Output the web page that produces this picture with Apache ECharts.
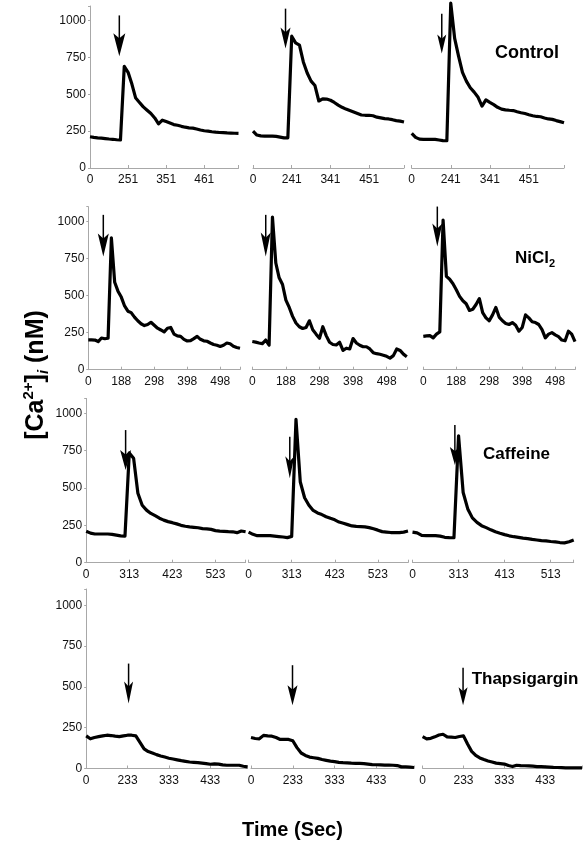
<!DOCTYPE html>
<html>
<head>
<meta charset="utf-8">
<script src="https://cdn.jsdelivr.net/npm/echarts@6/dist/echarts.min.js"></script>
<style>
html,body{margin:0;padding:0;background:#fff;}
#chart{width:585px;height:848px;}
</style>
</head>
<body>
<div id="chart"></div>
<script>
// ---------------- DATA ----------------
// [Ca2+]i (nM) traces, one value per sample index
const ctrl1 = [212,208,205,203,200,197,195,192,190,690,650,570,475,445,415,392,370,340,300,325,315,305,295,290,283,277,273,271,265,258,253,250,246,243,241,240,238,237,236,235];
const ctrl2 = [251,224,218,217,217,217,215,210,205,205,895,850,835,720,645,590,560,455,470,468,460,445,427,412,400,390,380,370,360,358,358,355,345,340,335,333,328,322,318,312];
const ctrl3 = [235,208,196,194,194,194,194,190,186,185,1120,880,760,650,590,545,515,480,420,462,445,430,412,400,395,392,390,382,375,370,362,355,350,348,340,333,330,322,315,307];

const ni1 = [201,201,200,190,214,209,212,890,590,530,490,430,395,385,355,330,310,298,305,320,300,280,268,255,280,285,240,228,225,205,194,196,210,225,205,195,192,180,170,165,157,165,180,175,158,150,145];
const ni2 = [190,186,180,176,200,165,1030,720,620,575,470,420,360,315,290,278,285,330,270,240,212,290,230,185,170,167,185,130,145,140,210,180,165,155,155,140,115,108,104,98,90,78,95,140,130,105,88];
const ni3 = [225,228,230,215,240,255,1010,630,610,580,540,495,465,445,400,408,440,480,385,350,330,370,420,355,330,312,305,318,300,260,285,370,350,324,318,305,270,215,240,250,235,223,200,195,260,240,190];

const caf1 = [210,198,192,192,192,192,190,185,180,178,735,700,465,385,352,330,315,298,285,275,268,260,250,244,240,237,234,228,226,223,215,212,210,208,207,201,212,207];
const caf2 = [205,190,181,181,181,181,178,175,172,168,176,960,540,435,385,350,333,322,308,297,287,272,264,255,246,243,242,240,235,227,218,208,205,202,201,201,205,212];
const caf3 = [205,200,183,181,181,181,178,170,168,167,850,470,360,300,270,248,235,220,207,197,188,180,174,170,165,161,156,152,148,146,142,139,135,133,140,152];

const thap1 = [200,182,190,195,200,204,202,198,195,200,204,204,200,160,120,104,95,85,77,70,63,58,53,48,44,40,38,36,33,30,26,28,27,22,20,20,20,20,14,10];
const thap2 = [190,184,182,203,200,198,190,178,178,178,170,128,95,80,70,66,62,55,50,45,42,38,36,35,33,32,31,30,27,24,23,22,21,21,20,18,10,10,8,6];
const thap3 = [195,182,185,194,205,210,194,192,190,196,200,150,105,80,65,55,46,40,33,30,27,18,12,20,18,17,16,14,12,11,10,9,7,6,5,4,4,4,4,4];

// x tick labels (placed every 10 samples, starting at sample 0)
const ctrlTicks1 = ['0','251','351','461'];
const ctrlTicks23 = ['0','241','341','451'];
const niTicks = ['0','188','298','398','498'];
const cafTicks12 = ['0','313','423','523'];
const cafTicks3 = ['0','313','413','513'];
const thapTicks = ['0','233','333','433'];
const yTicks = [0,250,500,750,1000];

// arrows: [sample index, value at tail, value at tip]
const ctrlArrows = [[7.7,1036,759],[8.4,1082,811],[7.7,1048,777]];
const niArrows   = [[4.55,1045,764],[4.0,1045,764],[4.25,1101,831]];
const cafArrows  = [[9.15,888,620],[9.56,843,565],[9.2,922,654]];
const thapArrows = [[10.25,643,398],[9.93,633,388],[9.9,618,388]];

const rowNames = ['Control','NiCl2','Caffeine','Thapsigargin'];

// ---------------- LAYOUT ----------------
const rows = [
  {top:6, bottom:168, panels:[
    {l:90, r:238.5, data:ctrl1, ticks:ctrlTicks1, arrow:ctrlArrows[0], head:[12,23]},
    {l:253, r:404, data:ctrl2, ticks:ctrlTicks23, arrow:ctrlArrows[1], head:[10,21]},
    {l:411.7, r:564, data:ctrl3, ticks:ctrlTicks23, arrow:ctrlArrows[2], head:[9,19]}]},
  {top:206.7, bottom:369.7, panels:[
    {l:88.3, r:240, data:ni1, ticks:niTicks, arrow:niArrows[0], head:[11,23]},
    {l:252.3, r:406.8, data:ni2, ticks:niTicks, arrow:niArrows[1], head:[10,24]},
    {l:423.3, r:575, data:ni3, ticks:niTicks, arrow:niArrows[2], head:[10,23]}]},
  {top:398.4, bottom:562.7, panels:[
    {l:86.2, r:245.6, data:caf1, ticks:cafTicks12, arrow:cafArrows[0], head:[11,20]},
    {l:248.6, r:408, data:caf2, ticks:cafTicks12, arrow:cafArrows[1], head:[9,22]},
    {l:412.5, r:573.7, data:caf3, ticks:cafTicks3, arrow:cafArrows[2], head:[10,18]}]},
  {top:589, bottom:768.5, panels:[
    {l:86.2, r:247.5, data:thap1, ticks:thapTicks, arrow:thapArrows[0], head:[9,22]},
    {l:251, r:414, data:thap2, ticks:thapTicks, arrow:thapArrows[1], head:[10,20]},
    {l:422.6, r:585, data:thap3, ticks:thapTicks, arrow:thapArrows[2], head:[9,18]}]}
];

const AXIS_FONT = "'Liberation Sans Narrow','Arial Narrow','Liberation Sans',Arial,sans-serif";
const BOLD_FONT = "'Liberation Sans',Arial,sans-serif";
const axisGray = '#a8a8a8';

function arrowRenderer(head) {
  return function (params, api) {
    const x = api.value(0);
    const p1 = api.coord([x, api.value(1)]);
    const p2 = api.coord([x, api.value(2)]);
    const w = head[0], h = head[1];
    return {
      type:'group',
      children:[
        {type:'line', shape:{x1:p1[0], y1:p1[1], x2:p2[0], y2:p2[1] - h * 0.6},
         style:{stroke:'#000', lineWidth:1.5}},
        {type:'polygon', shape:{points:[
          [p2[0], p2[1]], [p2[0] - w / 2, p2[1] - h], [p2[0], p2[1] - h * 0.78], [p2[0] + w / 2, p2[1] - h]
        ]}, style:{fill:'#000'}}
      ]
    };
  };
}

const grid = [], xAxis = [], yAxis = [], series = [];
let k = 0;
rows.forEach((row) => {
  row.panels.forEach((p, pi) => {
    const n = p.data.length - 1;
    grid.push({left:p.l, top:row.top, width:p.r - p.l, height:row.bottom - row.top});
    const tickMap = {};
    p.ticks.forEach((t, j) => { tickMap[j * 10] = t; });
    xAxis.push({
      type:'value', gridIndex:k, min:0, max:n, interval:10,
      splitLine:{show:false},
      axisLine:{show:true, lineStyle:{color:axisGray, width:1}},
      axisTick:{show:true, inside:true, length:3, lineStyle:{color:axisGray}},
      axisLabel:{
        fontFamily:AXIS_FONT, fontSize:12, color:'#111', margin:6,
        formatter:(v) => (tickMap[v] !== undefined ? tickMap[v] : '')
      }
    });
    const first = pi === 0;
    yAxis.push({
      type:'value', gridIndex:k, min:0, max:1100, interval:250,
      splitLine:{show:false},
      axisLine:{show:first, lineStyle:{color:axisGray, width:1}},
      axisTick:{show:first, length:2, lineStyle:{color:axisGray}},
      axisLabel:{
        show:first, fontFamily:AXIS_FONT, fontSize:12, color:'#111', margin:4,
        formatter:(v) => (yTicks.indexOf(v) >= 0 ? String(v) : '')
      }
    });
    series.push({
      type:'line', xAxisIndex:k, yAxisIndex:k,
      data:p.data.map((v, i) => [i, v]),
      showSymbol:false, symbol:'none', clip:false, silent:true,
      lineStyle:{color:'#000', width:3.2, join:'round'},
      z:3
    });
    series.push({
      type:'custom', xAxisIndex:k, yAxisIndex:k,
      data:[p.arrow],
      encode:{x:0, y:[1, 2]},
      renderItem:arrowRenderer(p.head),
      clip:false, silent:true, z:4
    });
    k++;
  });
});

const graphic = [
  {type:'text', x:527, y:53, style:{text:rowNames[0], font:"bold 18px " + BOLD_FONT, fill:'#000', align:'center', verticalAlign:'middle'}},
  {type:'text', x:535, y:258, style:{
    text:'{a|NiCl}{b|2}', align:'center', verticalAlign:'middle',
    rich:{a:{fontFamily:BOLD_FONT, fontWeight:'bold', fontSize:17, fill:'#000', color:'#000', lineHeight:22},
          b:{fontFamily:BOLD_FONT, fontWeight:'bold', fontSize:11, fill:'#000', color:'#000', verticalAlign:'bottom', lineHeight:22}}}},
  {type:'text', x:516.5, y:454, style:{text:rowNames[2], font:"bold 17px " + BOLD_FONT, fill:'#000', align:'center', verticalAlign:'middle'}},
  {type:'text', x:525, y:679, style:{text:rowNames[3], font:"bold 17px " + BOLD_FONT, fill:'#000', align:'center', verticalAlign:'middle'}},
  {type:'text', x:292.5, y:830, style:{text:'Time (Sec)', font:"bold 20px " + BOLD_FONT, fill:'#000', align:'center', verticalAlign:'middle'}},
  {type:'text', x:36, y:375, rotation:Math.PI/2, style:{
    text:'{a|[Ca}{s|2+}{a|]}{i|i}{a| (nM)}', align:'center', verticalAlign:'middle',
    rich:{
      a:{fontFamily:BOLD_FONT, fontWeight:'bold', fontSize:25, fill:'#000', color:'#000', lineHeight:30},
      s:{fontFamily:BOLD_FONT, fontWeight:'bold', fontSize:15, fill:'#000', color:'#000', verticalAlign:'top', lineHeight:30},
      i:{fontFamily:BOLD_FONT, fontWeight:'bold', fontStyle:'italic', fontSize:15, fill:'#000', color:'#000', verticalAlign:'bottom', lineHeight:30}
    }}}
];

const chart = echarts.init(document.getElementById('chart'), null, {renderer:'canvas'});
chart.setOption({
  animation:false,
  backgroundColor:'#fff',
  grid, xAxis, yAxis, series, graphic
});
</script>
</body>
</html>
